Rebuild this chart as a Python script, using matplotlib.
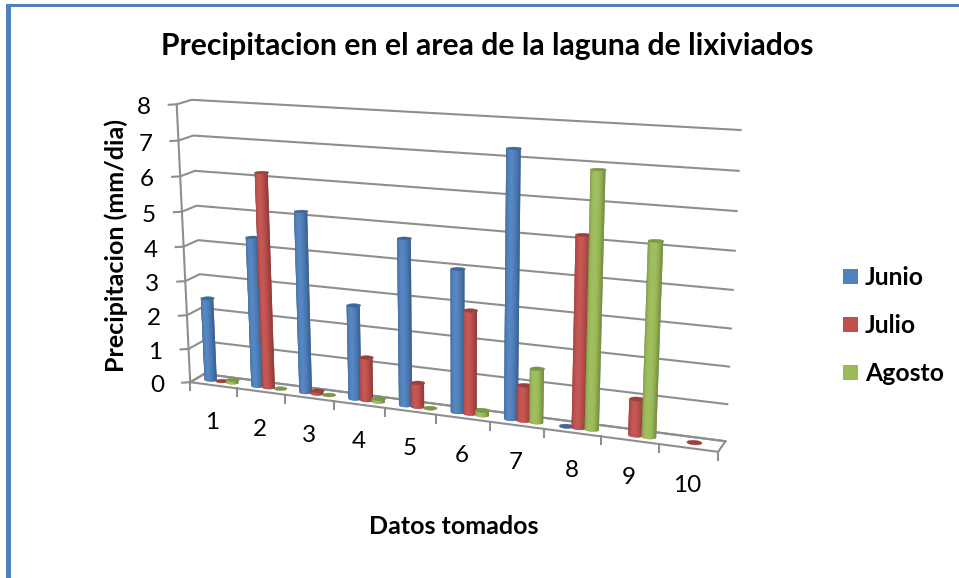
import numpy as np
import matplotlib
matplotlib.use('Agg')
import matplotlib.pyplot as plt
from matplotlib.collections import PolyCollection
from matplotlib.colors import to_rgb

# precipitation per sample, one list per month
categorias = ['1', '2', '3', '4', '5', '6', '7', '8', '9', '10']
junio = [2.45, 4.35, 5.2, 2.7, 4.7, 4.0, 7.3, 0.01, 0, 0]
julio = [0.02, 6.2, 0.1, 1.25, 0.7, 2.9, 1.0, 5.2, 1.0, 0.02]
agosto = [0.1, 0.02, 0.02, 0.1, 0.02, 0.15, 1.5, 6.9, 5.2, 0]
series = [('Junio', junio, '#4f81bd'), ('Julio', julio, '#c0504d'), ('Agosto', agosto, '#9bbb59')]
y_ticks = list(range(0, 9))

plt.rcParams['font.family'] = ['Lato', 'DejaVu Sans']

# box corners (cat, depth, value) and where they land on the canvas, used to fit the 3D view
box_pts = np.array([[0, 0, 0], [0, 1, 0], [10, 1, 0], [10, 0, 0], [0, 0, 8], [0, 1, 8], [10, 1, 8],
                    [10, 1, 4], [0, 1, 4], [0, 0, 4]], float)
px_pts = np.array([[191, 383], [204, 375], [725, 441], [718, 452], [176, 105], [192, 101], [741, 130],
                   [733, 290], [198, 238], [183.5, 245]], float)


def fit_view(src, dst):
    rows = []
    rhs = []
    for (a, b, c), (x, y) in zip(src, dst):
        rows.append([a, b, c, 1, 0, 0, 0, 0, -x * a, -x * b, -x * c])
        rows.append([0, 0, 0, 0, a, b, c, 1, -y * a, -y * b, -y * c])
        rhs += [x, y]
    m = np.linalg.lstsq(np.array(rows), np.array(rhs), rcond=None)[0]
    return np.append(m, 1.0).reshape(3, 4)


VIEW = fit_view(box_pts, px_pts)


def proj(cat, depth, val):
    p = VIEW @ np.array([cat, depth, val, 1.0])
    return p[0] / p[2], p[1] / p[2]


def shade(col, t):
    # t runs -1..1 across the cylinder, edges darker, lit band in the middle
    c = np.array(to_rgb(col))
    k = 1.03 - 0.28 * abs(t) ** 2.5
    if k > 1:
        return tuple(c + (1 - c) * (k - 1) * 1.5)
    return tuple(c * k)


def cylinder(ax, cat, val, col, z):
    rc, rd, dc = 0.125, 0.2, 0.5
    th = np.linspace(np.pi, 2 * np.pi, 17)
    if val > 0.05:
        polys = []
        cols = []
        # each strip reaches over the next one, which then paints over it, so no seams show
        for n in range(len(th) - 1):
            arc = th[n:n + 3]
            low = [proj(cat + rc * np.cos(a), dc + rd * np.sin(a), 0) for a in arc]
            high = [proj(cat + rc * np.cos(a), dc + rd * np.sin(a), val) for a in arc[::-1]]
            polys.append(low + high)
            cols.append(shade(col, np.cos((th[n] + th[n + 1]) / 2)))
        body = PolyCollection(polys, facecolors=cols, edgecolors='none', zorder=z)
        body.set_snap(False)
        ax.add_collection(body)
    # top disc, also all that shows for a near zero value
    t = np.linspace(0, 2 * np.pi, 40)
    disc = [proj(cat + rc * np.cos(a), dc + rd * np.sin(a), val) for a in t]
    top = tuple(np.array(to_rgb(col)) * 0.8)
    cap = PolyCollection([disc], facecolors=[top], edgecolors=[top], linewidths=0.3, zorder=z + 0.1)
    cap.set_snap(False)
    ax.add_collection(cap)


fig = plt.figure(figsize=(9.59, 5.78), dpi=100)
ax = fig.add_axes([0, 0, 1, 1])
ax.set_xlim(0, 959)
ax.set_ylim(578, 0)
ax.axis('off')

# outer border
ax.fill_between([6, 11], 4, 578, color='#4f81bd', lw=0)
ax.fill_between([6, 959], 4, 7, color='#4f81bd', lw=0)

grid = '#8e8e8e'
lw = 1.5

# gridlines on back and side wall, value axis ticks
for v in y_ticks:
    p0, p1, p2 = proj(0, 0, v), proj(0, 1, v), proj(10, 1, v)
    tick = (p0[0] - 8, p0[1] + 0.5)
    ax.plot([tick[0], p0[0], p1[0], p2[0]], [tick[1], p0[1], p1[1], p2[1]], color=grid, lw=lw, zorder=1)
    ax.text(p0[0] - 33, p0[1] + 3.5, str(v), fontsize=17.5, ha='center', va='center', color='black')

# value axis and floor outline
a0, a8 = proj(0, 0, 0), proj(0, 0, 8)
ax.plot([a0[0], a8[0]], [a0[1], a8[1]], color=grid, lw=lw, zorder=1)
f = [proj(0, 0, 0), proj(0, 1, 0), proj(10, 1, 0), proj(10, 0, 0), proj(0, 0, 0)]
ax.plot([q[0] for q in f], [q[1] for q in f], color=grid, lw=lw, zorder=1)

# category ticks and labels
for i in range(len(categorias) + 1):
    q = proj(i, 0, 0)
    ax.plot([q[0], q[0]], [q[1], q[1] + 8], color=grid, lw=lw, zorder=1)
for i, lab in enumerate(categorias):
    q = proj(i + 0.5, 0, 0)
    ax.text(q[0] - 0.8, q[1] + 37.5, lab, fontsize=17.5, ha='center', va='center', color='black')

# bars, left to right so the later month sits over the earlier one
spacing = 0.232
for i in range(len(categorias)):
    for j, (name, vals, col) in enumerate(series):
        if vals[i] > 0:
            cylinder(ax, i + 0.53 + (j - 1) * spacing, vals[i], col, 2 + i + j * 0.2)

ax.text(487, 46, 'Precipitacion en el area de la laguna de lixiviados', fontsize=21.7, fontweight='bold',
        ha='center', va='center', color='black')
ax.text(116, 246, 'Precipitacion (mm/dia)', fontsize=18, fontweight='bold', rotation=90,
        ha='center', va='center', color='black')
ax.text(454, 527, 'Datos tomados', fontsize=18, fontweight='bold', ha='center', va='center', color='black')

# legend
for k, (name, vals, col) in enumerate(series):
    yc = 276.5 + 48 * k
    ax.fill_between([843, 858], yc - 7.5, yc + 7.5, color=col, lw=0)
    ax.text(865, yc + 1, name, fontsize=17.8, fontweight='bold', ha='left', va='center', color='black')

fig.savefig('out.png', dpi=100)
